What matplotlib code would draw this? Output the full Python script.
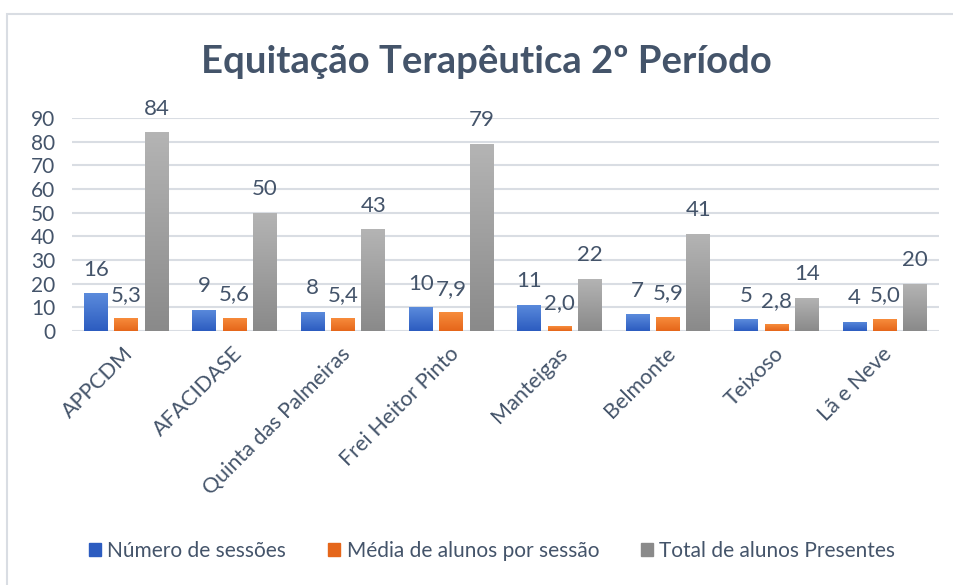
import numpy as np
import matplotlib.pyplot as plt
from matplotlib.patches import Rectangle
from matplotlib.colors import LinearSegmentedColormap

plt.rcParams['font.family'] = ['Lato', 'DejaVu Sans']

# dados
categorias = ['APPCDM', 'AFACIDASE', 'Quinta das Palmeiras', 'Frei Heitor Pinto',
              'Manteigas', 'Belmonte', 'Teixoso', 'Lã e Neve']
sessoes = [16, 9, 8, 10, 11, 7, 5, 4]
media_alunos = [5.3, 5.6, 5.4, 7.9, 2.0, 5.9, 2.8, 5.0]
total_alunos = [84, 50, 43, 79, 22, 41, 14, 20]

series = [
    ('Número de sessões', sessoes, '%d', ('#5b8bdc', '#2c5cc0')),
    ('Média de alunos por sessão', media_alunos, '%.1f', ('#f78c3c', '#e5661a')),
    ('Total de alunos Presentes', total_alunos, '%d', ('#b4b4b4', '#8a8a8a')),
]

texto = '#44546a'

fig = plt.figure(figsize=(9.54, 5.85), dpi=100)
ax = fig.add_axes([72 / 954, 1 - 331 / 585, (939 - 72) / 954, (331 - 118) / 585])

x = np.arange(len(categorias))
largura = 0.22
passo = 0.28

handles = []
for i, (nome, vals, fmt, (c_top, c_bot)) in enumerate(series):
    pos = x + (i - 1) * passo
    bars = ax.bar(pos, vals, largura, color=c_bot, label=nome, zorder=2)
    cmap = LinearSegmentedColormap.from_list(nome, [c_bot, c_top])
    grad = np.linspace(0, 1, 100).reshape(-1, 1)
    for b in bars:
        bx, by = b.get_x(), b.get_y()
        bw, bh = b.get_width(), b.get_height()
        im = ax.imshow(grad, cmap=cmap, origin='lower', aspect='auto',
                       extent=[bx, bx + bw, by, by + bh], zorder=3)
        im.set_clip_path(b)
    for p, v in zip(pos, vals):
        lab = (fmt % v).replace('.', ',')
        ax.annotate(lab, (p, v), xytext=(0, 17), textcoords='offset points',
                    ha='center', va='center', fontsize=16, color=texto, zorder=4)
    handles.append(Rectangle((0, 0), 1, 1, color=c_bot))

ax.set_xlim(-0.5, len(categorias) - 0.5)
ax.set_ylim(0, 90)
ax.set_yticks(range(0, 91, 10))
ax.set_xticks(x + 0.04)
ax.set_xticklabels(categorias, rotation=45, ha='right', va='center', rotation_mode='anchor')
ax.tick_params(axis='x', length=0, labelsize=15.5, colors=texto, pad=14)
ax.tick_params(axis='y', length=0, labelsize=15, colors=texto, pad=12)
ax.grid(axis='y', color='#d9dde3', linewidth=1.5, zorder=0)
ax.set_axisbelow(True)
for s in ax.spines.values():
    s.set_visible(False)

fig.text(486 / 954, 1 - 62 / 585, 'Equitação Terapêutica 2º Período', ha='center', va='center',
         fontsize=27.5, fontweight='bold', color=texto)

fig.legend(handles, [s[0] for s in series], loc='center', bbox_to_anchor=(492 / 954, 1 - 551 / 585),
           ncol=3, frameon=False, fontsize=15, labelcolor=texto, handlelength=0.6,
           handleheight=0.6, handletextpad=0.3, columnspacing=2.0)

# moldura do gráfico
fig.add_artist(Rectangle((7 / 954, -0.1), 1.1, 1 - 14 / 585 + 0.1, transform=fig.transFigure,
                         fill=False, edgecolor='#d9dde3', linewidth=1.5))

fig.savefig('out.png', dpi=100, facecolor='white')
